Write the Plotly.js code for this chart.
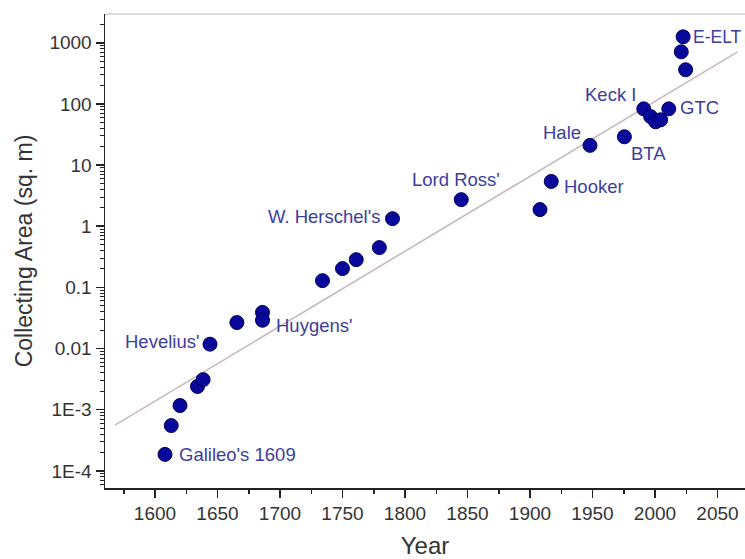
<!DOCTYPE html>
<html>
<head>
<meta charset="utf-8">
<script src="https://cdn.plot.ly/plotly-3.0.1.min.js"></script>
<style>
html,body{margin:0;padding:0;background:#fff;}
#chart{width:745px;height:559px;}
</style>
</head>
<body>
<div id="chart"></div>
<script>
// Telescope collecting area vs year
const years = [1608, 1613, 1620, 1634, 1638.5, 1644, 1665.5, 1686, 1686,
  1734, 1750, 1761, 1779.5, 1790, 1845, 1908, 1917, 1948, 1975.5,
  1991, 1996.5, 2000.5, 2004.5, 2011, 2022.5, 2021, 2024.5];
const areas = [1.86e-4, 5.5e-4, 1.17e-3, 2.4e-3, 3.1e-3, 0.0118, 0.0266, 0.039, 0.029,
  0.129, 0.203, 0.284, 0.447, 1.33, 2.72, 1.87, 5.4, 21, 29,
  83, 62, 51, 55, 83, 1250, 710, 362];

// trend line end points
const trendYears = [1568, 2066];
const trendAreas = [5.6e-4, 708];

// labels and the point index each one belongs to
const labelTexts = ["Galileo's 1609", "Hevelius'", "Huygens'", "W. Herschel's", "Lord Ross'",
  "Hooker", "Hale", "BTA", "Keck I", "GTC", "E-ELT"];
const labelPoint = [0, 5, 8, 13, 14, 16, 17, 18, 19, 23, 24];

// tick labels
const yTickVals = [1e-4, 1e-3, 0.01, 0.1, 1, 10, 100, 1000];
const yTickText = ["1E-4", "1E-3", "0.01", "0.1", "1", "10", "100", "1000"];
const xTickVals = [1600, 1650, 1700, 1750, 1800, 1850, 1900, 1950, 2000, 2050];

// label placement styles: [xanchor, xshift, yshift, size]
const labelStyle = [
  ['left', 12, 0, 18.5], ['right', -9, 3, 18.5], ['left', 11, -5, 18.5], ['right', -10, 2, 18.5], ['center', -5, 20, 18.5],
  ['left', 11, -5, 18.5], ['right', -7, 13, 18.5], ['left', 5, -17, 18.5], ['right', -6, 14, 18.5], ['left', 9, 1, 18.5], ['left', 8, 0, 17.5]
];

const FONT = 'Liberation Sans, Arial, sans-serif';
const labelColor = '#3d3d9e';

const annotations = labelTexts.map((t, i) => {
  const p = labelPoint[i];
  const s = labelStyle[i];
  return {
    x: years[p], y: Math.log10(areas[p]), xref: 'x', yref: 'y',
    text: t, showarrow: false, xanchor: s[0], yanchor: 'middle',
    xshift: s[1], yshift: s[2],
    font: {family: FONT, size: s[3], color: labelColor}
  };
});

const data = [
  {
    x: trendYears, y: trendAreas, type: 'scatter', mode: 'lines',
    line: {color: '#c9babd', width: 1.6}, hoverinfo: 'skip', showlegend: false
  },
  {
    x: years, y: areas, type: 'scatter', mode: 'markers',
    marker: {size: 14, color: '#08089a', line: {color: '#00005a', width: 1}},
    showlegend: false
  }
];

const layout = {
  width: 745, height: 559,
  margin: {l: 105, r: 0, t: 14, b: 71},
  paper_bgcolor: '#fff', plot_bgcolor: '#fff',
  showlegend: false,
  font: {family: FONT, color: '#222'},
  xaxis: {
    range: [1560, 2072],
    tickmode: 'array', tickvals: xTickVals,
    ticks: 'outside', ticklen: 8, tickwidth: 1.5, tickcolor: '#222',
    showline: true, linecolor: '#222', linewidth: 1.5,
    showgrid: false, zeroline: false,
    tickfont: {family: FONT, size: 19, color: '#333'},
    minor: {tickmode: 'linear', tick0: 1575, dtick: 50, ticks: 'outside', ticklen: 4, tickwidth: 1.5, tickcolor: '#222', showgrid: false},
    title: {text: 'Year', font: {family: FONT, size: 24, color: '#333'}, standoff: 16}
  },
  yaxis: {
    type: 'log', range: [-4.28, 3.47],
    tickmode: 'array', tickvals: yTickVals, ticktext: yTickText,
    ticks: 'outside', ticklen: 8, tickwidth: 1.5, tickcolor: '#222',
    showline: true, linecolor: '#222', linewidth: 1.5,
    showgrid: false, zeroline: false,
    tickfont: {family: FONT, size: 19, color: '#333'},
    minor: {dtick: 'D1', ticks: 'outside', ticklen: 4, tickwidth: 1, tickcolor: '#222', showgrid: false},
    title: {text: 'Collecting Area (sq. m)', font: {family: FONT, size: 23, color: '#333'}, standoff: 10}
  },
  shapes: [
    {type: 'line', xref: 'paper', yref: 'paper', x0: 0, x1: 1, y0: 1, y1: 1,
     line: {color: '#cfcfcf', width: 1.5}}
  ],
  annotations: annotations
};

Plotly.newPlot('chart', data, layout, {displayModeBar: false, staticPlot: true});
</script>
</body>
</html>
